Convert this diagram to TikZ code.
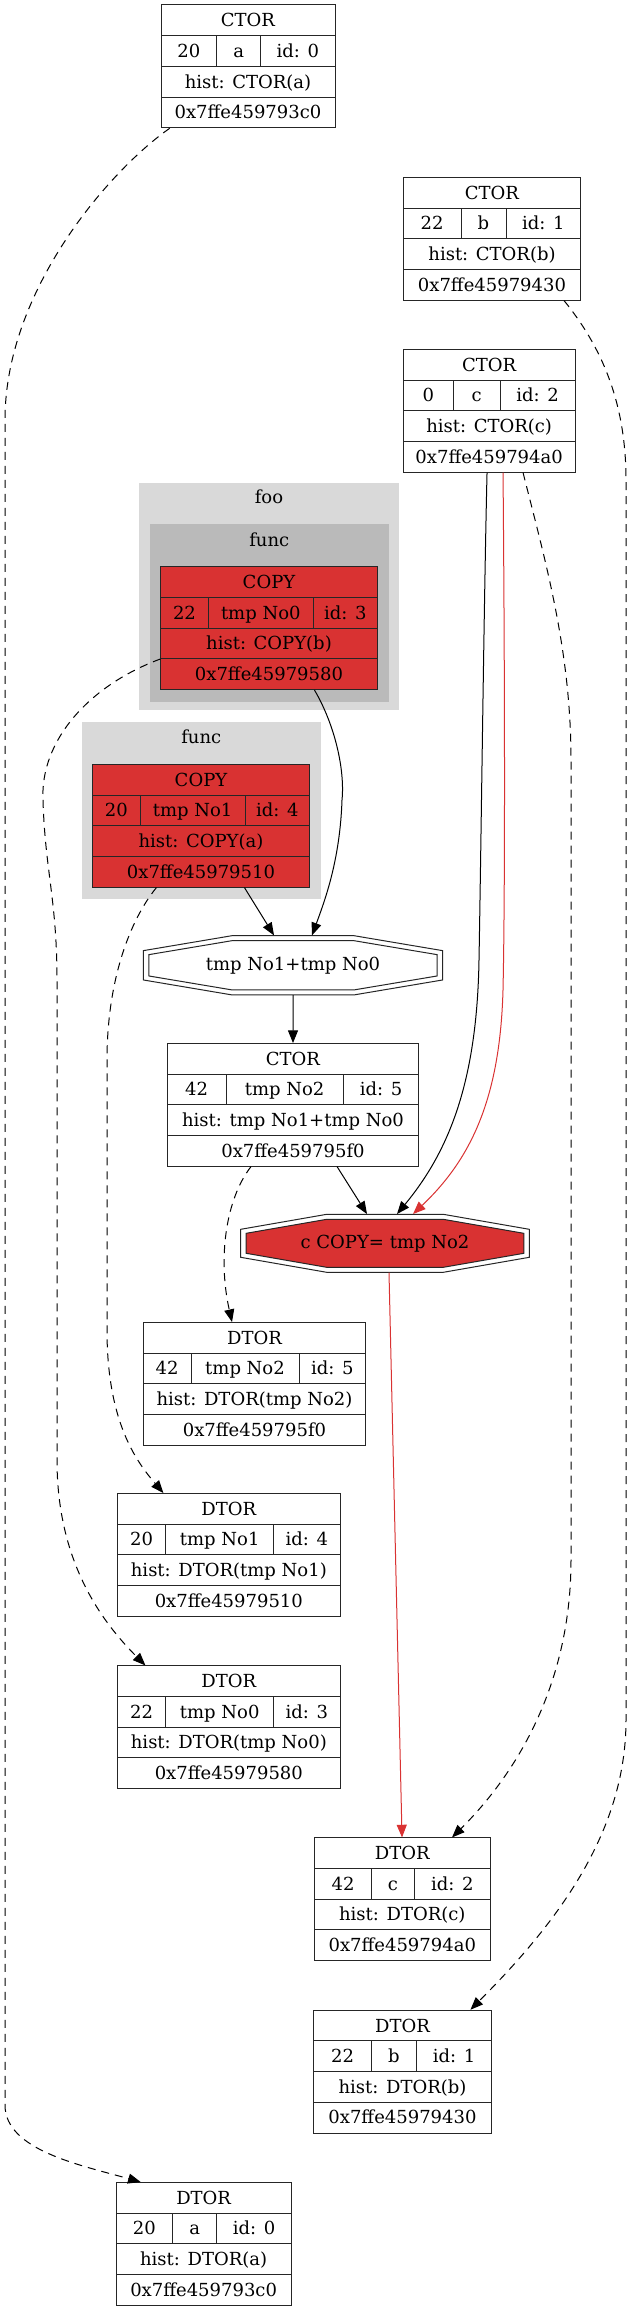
\documentclass[tikz,border=0pt]{standalone}
\usepackage{fontspec}
\setmainfont{DejaVu Serif}
\usetikzlibrary{arrows.meta, fit, calc}

\definecolor{objred}{RGB}{217,50,50}
\definecolor{scopelight}{RGB}{217,217,217}
\definecolor{scopedark}{RGB}{186,186,186}

% record box: name, fill, left, top, right, col1, col2
\newcommand{\record}[7]{%
  \filldraw[recline, fill=#2] (#3,#4) rectangle (#5,{#4+123});
  \draw[recline] (#3,{#4+30.75}) -- (#5,{#4+30.75})
                 (#3,{#4+61.5}) -- (#5,{#4+61.5})
                 (#3,{#4+92.25}) -- (#5,{#4+92.25})
                 (#6,{#4+30.75}) -- (#6,{#4+61.5})
                 (#7,{#4+30.75}) -- (#7,{#4+61.5});
  \node[fit={(#3,#4) (#5,{#4+123})}, inner sep=0pt] (#1) {};
  \def\recl{#3}\def\rect{#4}\def\recr{#5}\def\reca{#6}\def\recb{#7}}
% record texts: name, kind, value, var, id, history, address
\newcommand{\fields}[7]{%
  \node[cell] (#1-kind) at ({(\recl+\recr)/2},{\rect+22}) {#2};
  \node[cell] (#1-val)  at ({(\recl+\reca)/2},{\rect+52.6}) {#3};
  \node[cell] (#1-var)  at ({(\reca+\recb)/2},{\rect+52.6}) {#4};
  \node[cell] (#1-id)   at ({(\recb+\recr)/2},{\rect+52.6}) {#5};
  \node[cell] (#1-hist) at ({(\recl+\recr)/2},{\rect+83.2}) {#6};
  \node[cell] (#1-addr) at ({(\recl+\recr)/2},{\rect+113.8}) {#7};}
% double octagon: cx, cy, a, b, c, d, fill
\newcommand{\octagon}[7]{%
  \filldraw[recline, fill=white] ({#1-#3},{#2-#4}) -- ({#1+#3},{#2-#4}) -- ({#1+#5},{#2-#6})
    -- ({#1+#5},{#2+#6}) -- ({#1+#3},{#2+#4}) -- ({#1-#3},{#2+#4}) -- ({#1-#5},{#2+#6})
    -- ({#1-#5},{#2-#6}) -- cycle;
  \filldraw[recline, fill=#7] ({#1-#3},{#2-#4+5}) -- ({#1+#3},{#2-#4+5}) -- ({#1+#5-5.5},{#2-#6+4})
    -- ({#1+#5-5.5},{#2+#6-4}) -- ({#1+#3},{#2+#4-5}) -- ({#1-#3},{#2+#4-5}) -- ({#1-#5+5.5},{#2+#6-4})
    -- ({#1-#5+5.5},{#2-#6+4}) -- cycle;}

\begin{document}
\begin{tikzpicture}[x=0.75pt, y=-0.75pt,
    recline/.style={draw=black!85, line width=0.75pt},
    cell/.style={anchor=base, inner sep=0pt, font=\fontsize{13.5}{16}\selectfont},
    opnode/.style={inner sep=0pt, font=\fontsize{13.5}{16}\selectfont},
    dep/.style={-{Triangle[length=9.5pt, width=7.5pt]}, line width=0.75pt},
    die/.style={dep, dash pattern=on 6pt off 4.5pt}
  ]
  \useasboundingbox (0,0) rectangle (629,2311);

  % scopes
  \fill[scopelight] (139.3,483.3) rectangle (398.7,710);
  \fill[scopedark]  (150,524.3) rectangle (388.7,701.7);
  \fill[scopelight] (82,722) rectangle (320.7,899.3);
  \node[cell] (foo)   at (269,503.3) {foo};
  \node[cell] (func0) at (269.3,546) {func};
  \node[cell] (func1) at (201.3,743.3) {func};

  % objects
  \record{ctora}{white}{161}{5}{335}{216.7}{260.7}
  \fields{ctora}{CTOR}{20}{a}{id: 0}{hist: CTOR(a)}{0x7ffe459793c0}
  \record{ctorb}{white}{403.3}{177.3}{580.7}{461}{506}
  \fields{ctorb}{CTOR}{22}{b}{id: 1}{hist: CTOR(b)}{0x7ffe45979430}
  \record{ctorc}{white}{403.3}{349.3}{575}{453.3}{500}
  \fields{ctorc}{CTOR}{0}{c}{id: 2}{hist: CTOR(c)}{0x7ffe459794a0}
  \record{copy0}{objred}{160.7}{566.7}{377.3}{208.3}{313.3}
  \fields{copy0}{COPY}{22}{tmp No0}{id: 3}{hist: COPY(b)}{0x7ffe45979580}
  \record{copy1}{objred}{92.7}{764.3}{309.3}{140}{245.3}
  \fields{copy1}{COPY}{20}{tmp No1}{id: 4}{hist: COPY(a)}{0x7ffe45979510}
  \record{ctor2}{white}{167.3}{1043.3}{418.7}{226}{343.3}
  \fields{ctor2}{CTOR}{42}{tmp No2}{id: 5}{hist: tmp No1+tmp No0}{0x7ffe459795f0}
  \record{dtor2}{white}{143.3}{1322.3}{365.7}{191}{299}
  \fields{dtor2}{DTOR}{42}{tmp No2}{id: 5}{hist: DTOR(tmp No2)}{0x7ffe459795f0}
  \record{dtor1}{white}{117.7}{1493.3}{340}{165.7}{273.7}
  \fields{dtor1}{DTOR}{20}{tmp No1}{id: 4}{hist: DTOR(tmp No1)}{0x7ffe45979510}
  \record{dtor0}{white}{117.7}{1665.7}{340}{165.7}{273.7}
  \fields{dtor0}{DTOR}{22}{tmp No0}{id: 3}{hist: DTOR(tmp No0)}{0x7ffe45979580}
  \record{dtorc}{white}{314.3}{1837.7}{490.3}{371.7}{414.3}
  \fields{dtorc}{DTOR}{42}{c}{id: 2}{hist: DTOR(c)}{0x7ffe459794a0}
  \record{dtorb}{white}{313.7}{2010}{491.3}{371.3}{416.7}
  \fields{dtorb}{DTOR}{22}{b}{id: 1}{hist: DTOR(b)}{0x7ffe45979430}
  \record{dtora}{white}{116}{2182.3}{291.3}{172.7}{216.7}
  \fields{dtora}{DTOR}{20}{a}{id: 0}{hist: DTOR(a)}{0x7ffe459793c0}

  % operations
  \octagon{293}{965.3}{60.8}{29.65}{149.7}{14.65}{white}
  \node[opnode, minimum width=224.6pt, minimum height=44.5pt] (add) at (293,965.3) {tmp No1+tmp No0};
  \octagon{385}{1243.3}{58.3}{29}{144.3}{14}{objred}
  \node[opnode, minimum width=216.5pt, minimum height=43.5pt] (assign) at (385,1243.3) {c COPY= tmp No2};

  % lifetimes
  \draw[die] ($(ctora.south west)+(9,0)$) .. controls (110,170) and (5,290) .. (5,420)
    -- (5,2105) .. controls (5,2150) and (80,2165) .. ($(dtora.north west)+(25,0)$);
  \draw[die] ($(ctorb.south west)+(161,0)$) .. controls (600,345) and (626,400) .. (626,480)
    -- (626,1720) .. controls (626,1830) and (560,1920) .. ($(dtorb.north west)+(157,0)$);
  \draw[die] ($(ctorc.south west)+(120,0)$) .. controls (545,560) and (571,650) .. (571,760)
    -- (571,1560) .. controls (571,1680) and (520,1770) .. ($(dtorc.north west)+(138,0)$);
  \draw[die] ($(copy0.south west)+(0,-31)$) .. controls (90,685) and (40,740) .. (43,800)
    .. controls (45,870) and (57,900) .. (57,980)
    -- (57,1460) .. controls (57,1560) and (100,1620) .. ($(dtor0.north west)+(28,0)$);
  \draw[die] ($(copy1.south west)+(64,0)$) .. controls (130,920) and (107,980) .. (107,1060)
    -- (107,1330) .. controls (107,1420) and (135,1460) .. ($(dtor1.north west)+(46,0)$);
  \draw[die] ($(ctor2.south west)+(84,0)$) .. controls (225,1200) and (218,1260) .. ($(dtor2.north west)+(89,0)$);

  % uses
  \draw[dep] ($(ctorc.south west)+(84,0)$) .. controls (484,600) and (481,850) .. (479,960)
    .. controls (477,1080) and (450,1150) .. ($(assign.north)+(12,0)$);
  \draw[dep, objred] ($(ctorc.south west)+(100,0)$) .. controls (505,700) and (505,900) .. (503,990)
    .. controls (500,1100) and (470,1160) .. ($(assign.north)+(28,0)$);
  \draw[dep] ($(copy0.south west)+(154,0)$) .. controls (335,725) and (345,770) .. (342,800)
    .. controls (340,860) and (325,900) .. ($(add.north)+(19,0)$);
  \draw[dep] ($(copy1.south west)+(152,0)$) -- ($(add.north)+(-19,0)$);
  \draw[dep] (add.south) -- (ctor2.north);
  \draw[dep] ($(ctor2.south west)+(170,0)$) -- ($(assign.north)+(-18,0)$);
  \draw[dep, objred] ($(assign.south)+(4,0)$) -- ($(dtorc.north west)+(88,0)$);
\end{tikzpicture}
\end{document}
